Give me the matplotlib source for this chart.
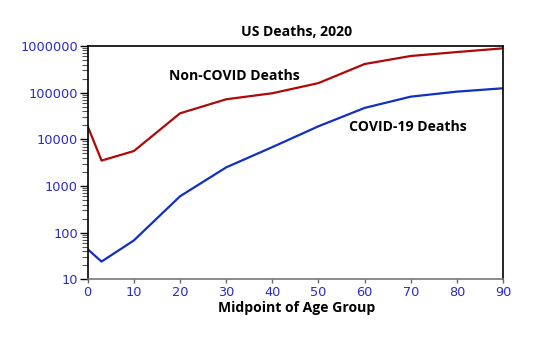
import numpy as np
import matplotlib.pyplot as plt
from matplotlib.ticker import LogLocator, NullFormatter, FixedLocator

# midpoint of each age group
age_mid = [0, 3, 10, 20, 30, 40, 50, 60, 70, 80, 90]
non_covid = [19000, 3500, 5600, 36000, 72000, 97000, 160000, 410000, 610000, 740000, 890000]
covid = [44, 24, 68, 600, 2500, 6800, 19000, 47000, 82000, 105000, 124000]

x_ticks = [0, 10, 20, 30, 40, 50, 60, 70, 80, 90]
y_ticks = [10, 100, 1000, 10000, 100000, 1000000]

tick_blue = '#2a2ac8'

fig = plt.figure(figsize=(5.54, 3.43), dpi=100)
ax = fig.add_axes([0.1583, 0.1857, 0.908 - 0.1583, 0.866 - 0.1857])

ax.plot(age_mid, non_covid, color='#b00808', lw=1.6)
ax.plot(age_mid, covid, color='#1030c0', lw=1.6)

ax.set_yscale('log')
ax.set_xlim(0, 90)
ax.set_ylim(10, 1000000)

ax.xaxis.set_major_locator(FixedLocator(x_ticks))
ax.set_xticklabels([str(v) for v in x_ticks])
ax.yaxis.set_major_locator(FixedLocator(y_ticks))
ax.set_yticklabels([str(v) for v in y_ticks])
ax.yaxis.set_minor_locator(LogLocator(base=10, subs=np.arange(2, 10)))
ax.yaxis.set_minor_formatter(NullFormatter())

ax.tick_params(axis='y', which='major', length=6, width=1, color='black',
               labelcolor=tick_blue, labelsize=9.3, pad=1)
ax.tick_params(axis='y', which='minor', length=4, width=0.8, color='#555555')
ax.tick_params(axis='x', which='major', length=3, width=1, color='#666666',
               labelcolor=tick_blue, labelsize=9.3, pad=2)

for side in ['left', 'top', 'right']:
    ax.spines[side].set_color('black')
    ax.spines[side].set_linewidth(1.2)
ax.spines['bottom'].set_color('#777777')
ax.spines['bottom'].set_linewidth(1.2)

bold = dict(family='Open Sans', fontweight='bold', color='black')
fig.text(296.7 / 554, 1 - 31.7 / 343, 'US Deaths, 2020', ha='center', va='center', fontsize=10.1, **bold)
fig.text(297 / 554, 1 - 307.7 / 343, 'Midpoint of Age Group', ha='center', va='center', fontsize=10.1, **bold)
fig.text(234.7 / 554, 1 - 75.7 / 343, 'Non-COVID Deaths', ha='center', va='center', fontsize=10.1, **bold)
fig.text(407.8 / 554, 1 - 126.7 / 343, 'COVID-19 Deaths', ha='center', va='center', fontsize=10.1, **bold)

fig.savefig('out.png', dpi=100)
